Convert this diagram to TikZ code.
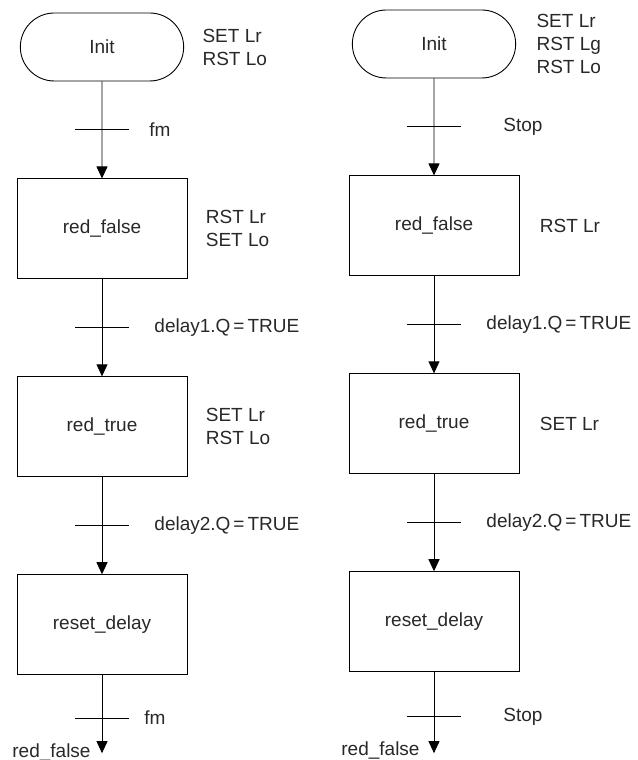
\documentclass[tikz,border=0pt]{standalone}
\usepackage{fontspec}
\setmainfont{Liberation Sans}
\usepackage{tikz}
\usetikzlibrary{arrows.meta, positioning, shapes.misc}
\definecolor{TxtGray}{RGB}{40,40,40}
\newcommand{\chartfont}{\fontsize{19}{23}\selectfont}
\newcommand{\eqsp}{\hspace{3pt}=\hspace{3pt}}

\begin{document}
\begin{tikzpicture}[x=1pt, y=1pt, >={Triangle[length=12pt, width=11pt]},
  line width=0.9pt, node distance=97pt,
  init/.style={draw, rounded rectangle, minimum width=170pt,
               minimum height=68pt, font=\chartfont, text=TxtGray},
  stepbox/.style={draw, rectangle, minimum width=170pt,
                  minimum height=100pt, font=\chartfont, text=TxtGray},
  act/.style={inner sep=0pt, align=left, font=\chartfont, text=TxtGray},
  cond/.style={inner sep=0pt, anchor=west, font=\chartfont, text=TxtGray}
]
  \useasboundingbox (0,0) rectangle (637,760);

  %% left chart
  \node[init]                    (INITa) at (102,713) {Init};
  \node[stepbox, below=of INITa] (REDFa) {red\_false};
  \node[stepbox, below=of REDFa] (REDTa) {red\_true};
  \node[stepbox, below=of REDTa] (RESa)  {reset\_delay};
  \coordinate[below=78pt of RESa.south] (enda);

  \node[act, right=18pt of INITa] (acta1) {SET Lr\\RST Lo};
  \node[act, right=18pt of REDFa] (acta2) {RST Lr\\SET Lo};
  \node[act, right=18pt of REDTa] (acta3) {SET Lr\\RST Lo};

  \draw[->] (INITa) -- coordinate[midway] (ta1) (REDFa);
  \draw[->] (REDFa) -- coordinate[midway] (ta2) (REDTa);
  \draw[->] (REDTa) -- coordinate[midway] (ta3) (RESa);
  \draw[->] (RESa)  -- coordinate[pos=0.55] (ta4) (enda);

  %% transition ticks
  \foreach \t in {ta1, ta2, ta3, ta4}
    \draw ([xshift=-27pt]\t) -- ([xshift=27pt]\t);

  \node[cond, right=47pt of ta1] (conda1) {fm};
  \node[cond, right=52pt of ta2] (conda2) {delay1.Q\eqsp TRUE};
  \node[cond, right=52pt of ta3] (conda3) {delay2.Q\eqsp TRUE};
  \node[cond, right=42pt of ta4] (conda4) {fm};
  \node[act, anchor=base east] (nexta) at ([xshift=-11pt, yshift=-4pt]enda)
    {red\_false};

  %% right chart
  \node[init]                    (INITb) at (434,716) {Init};
  \node[stepbox, below=of INITb] (REDFb) {red\_false};
  \node[stepbox, below=of REDFb] (REDTb) {red\_true};
  \node[stepbox, below=of REDTb] (RESb)  {reset\_delay};
  \coordinate[below=81pt of RESb.south] (endb);

  \node[act, right=20pt of INITb] (actb1) {SET Lr\\RST Lg\\RST Lo};
  \node[act, right=20pt of REDFb] (actb2) {RST Lr};
  \node[act, right=20pt of REDTb] (actb3) {SET Lr};

  \draw[->] (INITb) -- coordinate[midway] (tb1) (REDFb);
  \draw[->] (REDFb) -- coordinate[midway] (tb2) (REDTb);
  \draw[->] (REDTb) -- coordinate[midway] (tb3) (RESb);
  \draw[->] (RESb)  -- coordinate[pos=0.55] (tb4) (endb);

  \foreach \t in {tb1, tb2, tb3, tb4}
    \draw ([xshift=-27pt]\t) -- ([xshift=27pt]\t);

  \node[cond, right=69pt of tb1] (condb1) {Stop};
  \node[cond, right=52pt of tb2] (condb2) {delay1.Q\eqsp TRUE};
  \node[cond, right=52pt of tb3] (condb3) {delay2.Q\eqsp TRUE};
  \node[cond, right=69pt of tb4] (condb4) {Stop};
  \node[act, anchor=base east] (nextb) at ([xshift=-14pt, yshift=-2pt]endb)
    {red\_false};
\end{tikzpicture}
\end{document}
